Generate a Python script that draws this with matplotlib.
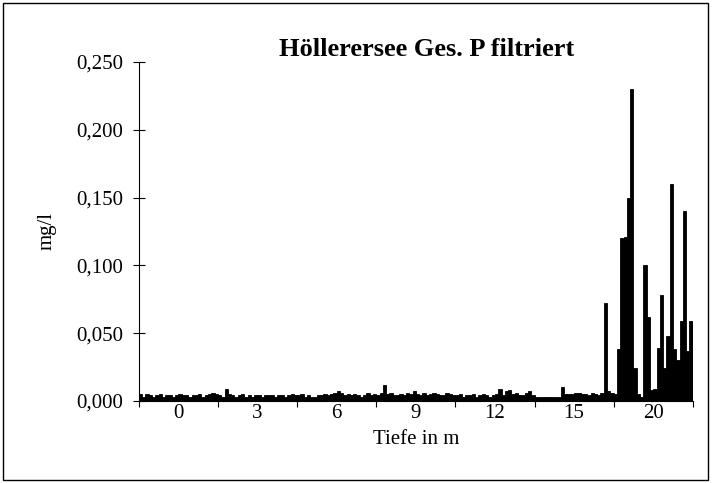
import matplotlib.pyplot as plt
import numpy as np
from matplotlib.patches import Rectangle
from matplotlib.ticker import FuncFormatter

plt.rcParams['font.family'] = ['Liberation Serif', 'DejaVu Serif']

# Tiefenstufen (Kategorien) und Messwerte je Termin (mg/l)
depths = ["0", "3", "6", "9", "12", "15", "20"]

p_0m = [0.005, 0.003, 0.005, 0.004, 0.003, 0.004, 0.005, 0.003, 0.004, 0.004, 0.003, 0.004,
        0.005, 0.004, 0.004, 0.003, 0.004, 0.004, 0.005, 0.003, 0.004, 0.005, 0.006, 0.005]
p_3m = [0.004, 0.003, 0.009, 0.005, 0.004, 0.003, 0.004, 0.005, 0.003, 0.004, 0.003, 0.004,
        0.004, 0.003, 0.004, 0.004, 0.004, 0.003, 0.004, 0.004, 0.003, 0.004, 0.005, 0.004]
p_6m = [0.004, 0.005, 0.003, 0.004, 0.003, 0.003, 0.004, 0.004, 0.005, 0.004, 0.005, 0.006,
        0.007, 0.006, 0.004, 0.005, 0.004, 0.005, 0.004, 0.003, 0.004, 0.006, 0.004, 0.005]
p_9m = [0.004, 0.006, 0.012, 0.005, 0.006, 0.004, 0.004, 0.005, 0.004, 0.006, 0.005, 0.007,
        0.005, 0.004, 0.006, 0.004, 0.005, 0.006, 0.005, 0.004, 0.004, 0.006, 0.005, 0.004]
p_12m = [0.004, 0.005, 0.003, 0.004, 0.004, 0.005, 0.003, 0.004, 0.005, 0.004, 0.003, 0.004,
         0.005, 0.009, 0.004, 0.007, 0.008, 0.005, 0.006, 0.004, 0.004, 0.006, 0.007, 0.004]
p_15m = [0.003, 0.003, 0.003, 0.003, 0.003, 0.003, 0.003, 0.003, 0.010, 0.005, 0.005, 0.005,
         0.006, 0.006, 0.005, 0.005, 0.004, 0.006, 0.005, 0.004, 0.006, 0.072, 0.007, 0.006]
p_20m = [0.005, 0.038, 0.120, 0.121, 0.150, 0.230, 0.024, 0.005, 0.003, 0.100, 0.062, 0.008,
         0.009, 0.039, 0.078, 0.024, 0.048, 0.160, 0.038, 0.030, 0.059, 0.140, 0.037, 0.059]

values = [p_0m, p_3m, p_6m, p_9m, p_12m, p_15m, p_20m]

fig = plt.figure(figsize=(7.12, 4.83), dpi=100)
ax = fig.add_axes([0.195, 0.17, 0.778, 0.7016])

n_series = len(p_0m)
w = 1.0 / n_series
for i, vals in enumerate(values):
    x = i + (np.arange(n_series) + 0.5) * w
    ax.bar(x, vals, width=w, color="black", edgecolor="black", linewidth=0.6)

ax.set_xlim(0, len(depths))
ax.set_ylim(0, 0.25)

# Kategoriengrenzen als Striche, Beschriftung in der Mitte
ax.set_xticks(np.arange(len(depths) + 1))
ax.set_xticklabels([])
ax.set_xticks(np.arange(len(depths)) + 0.5, minor=True)
ax.set_xticklabels(depths, minor=True)
ax.tick_params(axis="x", which="major", direction="out", length=4, width=0.8)
ax.tick_params(axis="x", which="minor", length=0, labelsize=15, pad=2)

ax.set_yticks(np.arange(0, 0.2501, 0.05))
ax.yaxis.set_major_formatter(FuncFormatter(lambda v, p: f"{v:.3f}".replace(".", ",")))
ax.tick_params(axis="y", direction="inout", length=8.6, width=0.8, labelsize=15, pad=7)

for s in ["top", "right"]:
    ax.spines[s].set_visible(False)
ax.spines["left"].set_linewidth(0.8)
ax.spines["bottom"].set_linewidth(0.8)

ax.set_xlabel("Tiefe in m", fontsize=15, labelpad=5)
ax.set_ylabel("mg/l", fontsize=15, labelpad=14)
fig.text(0.599, 0.897, "Höllerersee Ges. P filtriert", ha="center", va="center",
         fontsize=19, fontweight="bold")

# Rahmen um die ganze Grafik
fig.patches.append(Rectangle((3 / 712, 3 / 483), 705 / 712, 477 / 483, transform=fig.transFigure,
                             fill=False, edgecolor="black", linewidth=1))

fig.savefig("out.png", dpi=100)
